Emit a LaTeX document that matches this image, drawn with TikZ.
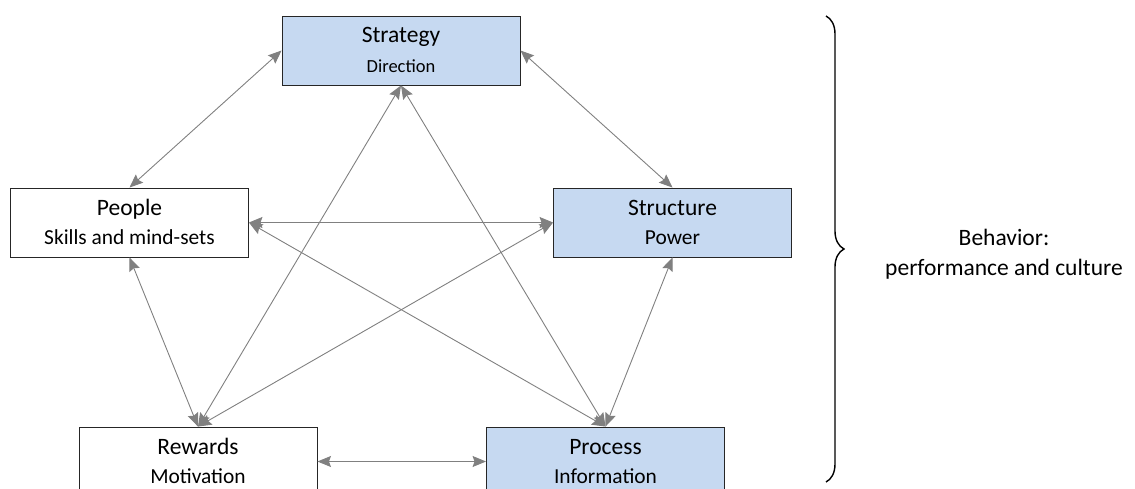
\documentclass[tikz,border=0pt]{standalone}
\usepackage{fontspec}
\setmainfont{Carlito}
\usetikzlibrary{arrows.meta,decorations.pathreplacing}
\definecolor{boxblue}{RGB}{198,217,241}
\definecolor{linkgray}{RGB}{128,128,128}
\begin{document}
\begin{tikzpicture}[x=1pt,y=-1pt,
  box/.style={draw=black!85, line width=0.9pt, minimum width=238pt,
              minimum height=69pt, inner sep=0pt},
  shaded/.style={box, fill=boxblue},
  title/.style={anchor=base, inner sep=0pt, font=\fontsize{23.5}{28}\selectfont},
  subtitle/.style={anchor=base, inner sep=0pt, font=\fontsize{21.4}{26}\selectfont},
  smallsubtitle/.style={anchor=base, inner sep=0pt, font=\fontsize{18.5}{22}\selectfont},
  tip/.tip={Stealth[length=13.5pt,width=11pt,inset=2pt]},
  link/.style={draw=linkgray, line width=0.9pt, tip-tip},
  bracket/.style={draw=black, line width=1.4pt, decorate,
                  decoration={brace, amplitude=18pt}},
]
\useasboundingbox (0,0) rectangle (1135,489);
\clip (0,0) rectangle (1135,489);

% the five levers
\node[shaded] (strategy)  at (401,50.5)  {};
\node[box]    (people)    at (129.5,222.5) {};
\node[shaded] (structure) at (672.5,222.5) {};
\node[box]    (rewards)   at (198,461.5) {};
\node[shaded] (process)   at (605.5,461.5) {};

\node[title]         (strategy-t)  at (401,43)  {Strategy};
\node[smallsubtitle] (strategy-s)  at (401,73)  {Direction};
\node[title]         (people-t)    at (129.5,215) {People};
\node[subtitle]      (people-s)    at (129.5,244) {Skills and mind-sets};
\node[title]         (structure-t) at (672.5,215) {Structure};
\node[subtitle]      (structure-s) at (672.5,244) {Power};
\node[title]         (rewards-t)   at (198,454) {Rewards};
\node[subtitle]      (rewards-s)   at (198,483) {Motivation};
\node[title]         (process-t)   at (605.5,454) {Process};
\node[subtitle]      (process-s)   at (605.5,483) {Information};

% links between every pair of levers
\draw[link] (strategy.west)  -- (people.north);
\draw[link] (strategy.east)  -- (structure.north);
\draw[link] (people.east)    -- (structure.west);
\draw[link] (people.south)   -- (rewards.north);
\draw[link] (structure.south) -- (process.north);
\draw[link] (rewards.east)   -- (process.west);
\draw[link] (strategy.south) -- (rewards.north);
\draw[link] (strategy.south) -- (process.north);
\draw[link] (people.east)    -- (process.north);
\draw[link] (structure.west) -- (rewards.north);

% outcome
\coordinate (brace-top) at (826,16);
\coordinate (brace-bottom) at (826,482);
\draw[bracket] (brace-top) -- (brace-bottom);
\node[title] (behavior-1) at (1004,246) {Behavior:};
\node[title] (behavior-2) at (1004,275) {performance and culture};
\end{tikzpicture}
\end{document}
